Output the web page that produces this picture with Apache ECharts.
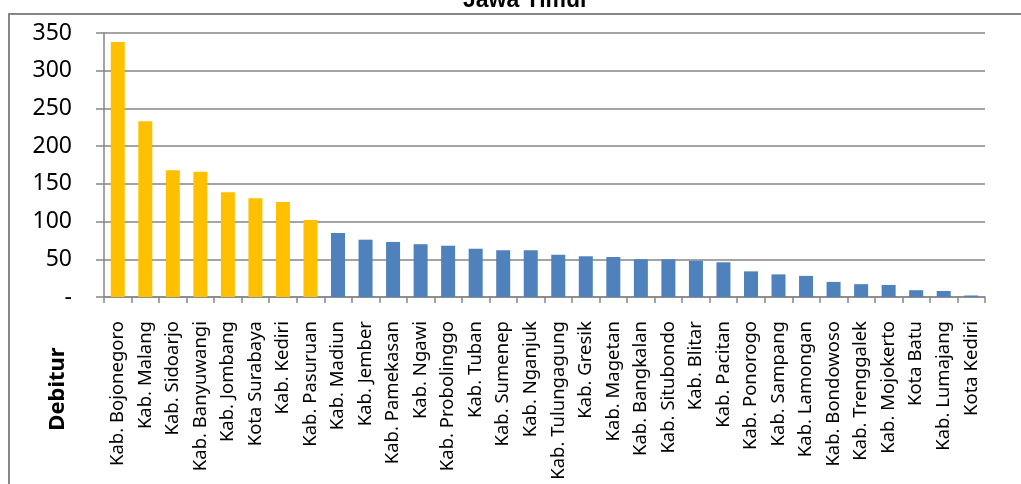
<!DOCTYPE html>
<html>
<head>
<meta charset="utf-8">
<script src="https://cdn.jsdelivr.net/npm/echarts@6/dist/echarts.min.js"></script>
<style>
  html, body { margin: 0; padding: 0; background: #fff; }
  #chart { width: 1021px; height: 484px; }
</style>
</head>
<body>
<div id="chart"></div>
<script>
// Number of debtors per regency / city in East Java
const categories = [
  'Kab. Bojonegoro', 'Kab. Malang', 'Kab. Sidoarjo', 'Kab. Banyuwangi', 'Kab. Jombang',
  'Kota Surabaya', 'Kab. Kediri', 'Kab. Pasuruan', 'Kab. Madiun', 'Kab. Jember',
  'Kab. Pamekasan', 'Kab. Ngawi', 'Kab. Probolinggo', 'Kab. Tuban', 'Kab. Sumenep',
  'Kab. Nganjuk', 'Kab. Tulungagung', 'Kab. Gresik', 'Kab. Magetan', 'Kab. Bangkalan',
  'Kab. Situbondo', 'Kab. Blitar', 'Kab. Pacitan', 'Kab. Ponorogo', 'Kab. Sampang',
  'Kab. Lamongan', 'Kab. Bondowoso', 'Kab. Trenggalek', 'Kab. Mojokerto', 'Kota Batu',
  'Kab. Lumajang', 'Kota Kediri'
];
const debitur = [
  338, 233, 168, 166, 139, 131, 126, 102, 85, 76,
  73, 70, 68, 64, 62, 62, 56, 54, 53, 50,
  50, 48, 46, 34, 30, 28, 20, 17, 16, 9,
  8, 2
];
// how many of the leading regions are highlighted
const highlightCount = 8;

const chart = echarts.init(document.getElementById('chart'), null, { renderer: 'canvas' });

const axisGray = '#868686';
const labelFont = '"Noto Sans", "Open Sans", sans-serif';

chart.setOption({
  animation: false,
  backgroundColor: '#ffffff',
  title: {
    text: 'Jawa Timur',
    left: 521,
    top: -16,
    textAlign: 'center',
    textStyle: { fontFamily: '"Liberation Sans", Arial, sans-serif', fontWeight: 'bold', fontSize: 23, color: '#000' }
  },
  graphic: [
    {
      type: 'rect',
      shape: { x: 9, y: 14, width: 1040, height: 500 },
      style: { fill: 'none', stroke: axisGray, lineWidth: 2 },
      silent: true,
      z: -1
    },
    {
      type: 'text',
      x: 58,
      y: 389,
      rotation: Math.PI / 2,
      style: {
        text: 'Debitur',
        font: 'bold 22px ' + labelFont,
        fill: '#000',
        align: 'center',
        verticalAlign: 'middle'
      }
    }
  ],
  grid: { left: 104, right: 36, top: 33, bottom: 187, containLabel: false },
  xAxis: {
    type: 'category',
    data: categories,
    boundaryGap: true,
    axisLine: { lineStyle: { color: axisGray, width: 1.5 } },
    axisTick: { show: true, length: 6, lineStyle: { color: axisGray, width: 1.5 } },
    axisLabel: {
      interval: 0,
      rotate: 90,
      margin: 24,
      fontFamily: labelFont,
      fontSize: 18.5,
      color: '#000'
    }
  },
  yAxis: {
    type: 'value',
    min: 0,
    max: 350,
    interval: 50,
    axisLine: { show: true, lineStyle: { color: axisGray, width: 1.5 } },
    axisTick: { show: true, length: 8, lineStyle: { color: axisGray, width: 1.5 } },
    splitLine: { lineStyle: { color: axisGray, width: 1.5 } },
    axisLabel: {
      margin: 32,
      fontFamily: labelFont,
      fontSize: 23,
      color: '#000',
      formatter: v => (v === 0 ? '-' : String(v))
    }
  },
  series: [
    {
      type: 'bar',
      data: debitur,
      barWidth: 14,
      itemStyle: {
        color: p => (p.dataIndex < highlightCount ? '#FFC000' : '#4F81BD')
      }
    }
  ]
});
</script>
</body>
</html>
